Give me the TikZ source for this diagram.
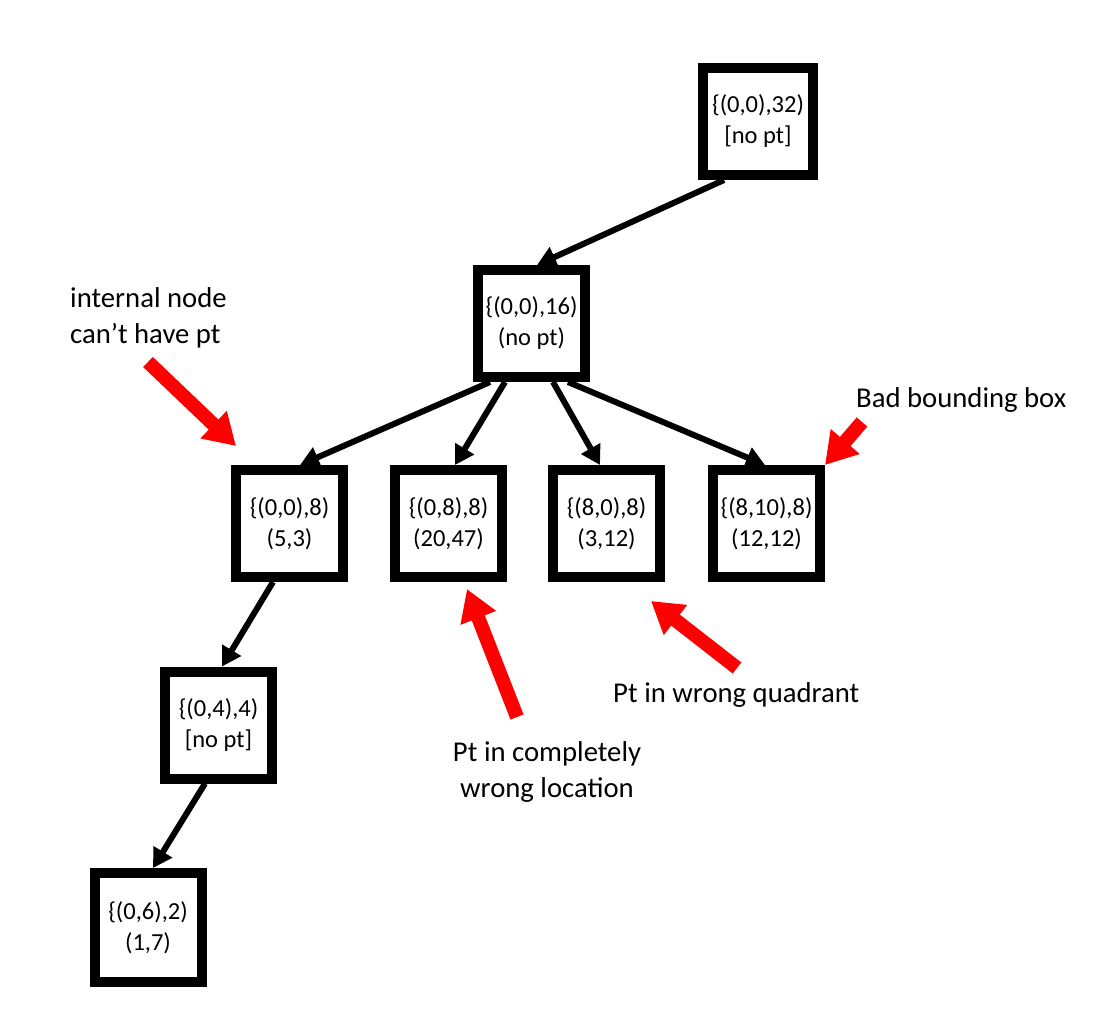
\documentclass[tikz,border=0pt]{standalone}
\usepackage{fontspec}
\setmainfont{Carlito}
\usetikzlibrary{arrows.meta}
\begin{document}
\begin{tikzpicture}[x=1pt,y=-1pt,
  qbox/.style={draw=black, line width=10pt, minimum width=107pt, minimum height=107pt,
    inner sep=0pt, align=center, font=\fontsize{24.5}{31}\selectfont},
  lbl/.style={inner sep=0pt, font=\fontsize{28.7}{35.5}\selectfont},
  blk/.style={draw=black, line width=6pt, -{Triangle[length=19pt,width=21pt]}},
  redarr/.style={draw=red, line width=14pt, -{Triangle[length=31pt,width=36pt]}}]
\useasboundingbox (0,0) rectangle (1111,1025);
\node[qbox, minimum width=110pt] (n32) at (758,121.5) {\{(0,0),32)\\{}[no pt]};
\node[qbox] (n16) at (531.5,323.5) {\{(0,0),16)\\(no pt)};
\node[qbox] (n00) at (289.5,523.5) {\{(0,0),8)\\(5,3)};
\node[qbox] (n08) at (448.5,523.5) {\{(0,8),8)\\(20,47)};
\node[qbox] (n80) at (606.5,523.5) {\{(8,0),8)\\(3,12)};
\node[qbox] (n810) at (766.5,523.5) {\{(8,10),8)\\(12,12)};
\node[qbox] (n04) at (218.5,725) {\{(0,4),4)\\{}[no pt]};
\node[qbox, minimum height=109pt] (n06) at (148,927.5) {\{(0,6),2)\\(1,7)};

\draw[blk] ([xshift=-34pt]n32.south) -- ([xshift=5.5pt]n16.north);
\draw[blk] ([xshift=-41.5pt]n16.south) -- ([xshift=10.5pt]n00.north);
\draw[blk] ([xshift=-26.5pt]n16.south) -- ([xshift=6.5pt]n08.north);
\draw[blk] ([xshift=21.5pt]n16.south) -- ([xshift=-6.5pt]n80.north);
\draw[blk] ([xshift=36.5pt]n16.south) -- ([xshift=-1.5pt]n810.north);
\draw[blk] ([xshift=-16.5pt]n00.south) -- ([xshift=3.5pt]n04.north);
\draw[blk] ([xshift=-13.5pt]n04.south) -- ([xshift=5pt]n06.north);

\node[lbl, anchor=west, align=left] (t1) at (70,318) {internal node\\can’t have pt};
\node[lbl, anchor=west] (t2) at (856,400) {Bad bounding box};
\node[lbl, anchor=west] (t3) at (613,695) {Pt in wrong quadrant};
\node[lbl, align=center] (t4) at (547,772) {Pt in completely\\wrong location};

\coordinate (r1a) at (148,362);
\coordinate (r1b) at (236,446);
\coordinate (r2a) at (517,717);
\coordinate (r2b) at (467,589);
\coordinate (r3a) at (737,668);
\coordinate (r3b) at (651,601);
\coordinate (r4a) at (862,422);
\draw[redarr] (r1a) -- (r1b);
\draw[redarr] (r2a) -- (r2b);
\draw[redarr] (r3a) -- (r3b);
\draw[redarr] (r4a) -- (n810.north east);
\end{tikzpicture}
\end{document}
